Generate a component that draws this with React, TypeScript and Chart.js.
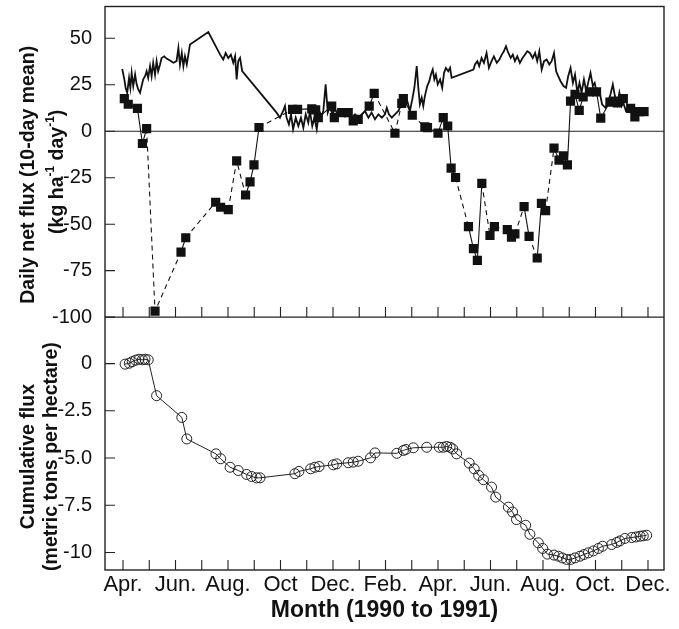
import React, { useEffect, useRef } from 'react';
import { Chart, registerables } from 'chart.js';

Chart.register(...registerables);

// x values are months counted from April 1990 (0 = Apr. 1990, 20 = Dec. 1991)
const monthLabels = ['Apr.', '', 'Jun.', '', 'Aug.', '', 'Oct', '', 'Dec.', '', 'Feb.', '', 'Apr.', '', 'Jun.', '', 'Aug.', '', 'Oct.', '', 'Dec.'];

const fluxTicks = [50, 25, 0, -25, -50, -75, -100];
const cumTicks = [0, -2.5, -5, -7.5, -10];
const cumTickLabels = ['0', '-2.5', '-5.0', '-7.5', '-10'];

// daily net flux (kg ha-1 day-1): [month, value]
const dailyFlux: [number, number][] = [
  [-0.03, 33.5], [0.05, 27.9], [0.10, 23.4], [0.16, 20.7], [0.23, 28.7], [0.28, 23.4], [0.33, 31.4], [0.39, 24.3],
  [0.46, 30.5], [0.52, 25.2], [0.58, 22.5], [0.65, 20.7], [0.71, 24.3], [0.77, 27.9], [0.84, 29.6], [0.90, 32.3],
  [0.96, 28.7], [1.03, 35.0], [1.09, 29.6], [1.15, 36.8], [1.22, 30.5], [1.28, 37.7], [1.34, 32.3], [1.41, 35.9],
  [1.47, 39.4], [1.57, 40.3], [1.66, 39.1], [1.79, 38.0], [1.92, 36.8], [2.04, 37.7], [2.11, 44.8], [2.17, 35.9],
  [2.24, 42.1], [2.30, 35.0], [2.36, 40.3], [2.43, 35.9], [2.55, 46.6], [3.25, 53.4], [3.70, 41.2], [3.82, 38.6],
  [3.91, 42.1], [4.01, 39.4], [4.11, 41.2], [4.20, 36.8], [4.27, 40.3], [4.33, 27.9], [4.39, 37.7], [4.46, 39.4],
  [4.54, 32.3],
  [5.85, 10.0], [5.98, 7.3], [6.10, 10.9], [6.17, 13.6], [6.23, 7.3], [6.32, 3.7], [6.40, 9.1], [6.48, 1.1],
  [6.58, 7.3], [6.68, 2.8], [6.78, 7.3], [6.87, 1.9], [6.96, 9.1], [7.06, 4.6], [7.12, 10.9], [7.21, 2.8],
  [7.29, 7.3], [7.38, 1.1], [7.47, 10.9], [7.57, 8.2], [7.63, 10.9], [7.72, 25.2], [7.80, 10.0], [7.89, 13.6],
  [7.97, 9.1], [8.08, 11.8], [8.20, 8.2], [8.33, 10.9], [8.46, 8.2], [8.58, 10.9], [8.71, 7.3], [8.84, 9.1],
  [8.96, 7.3], [9.09, 9.1], [9.22, 10.9], [9.35, 7.3], [9.47, 10.0], [9.60, 6.4], [9.73, 9.1], [9.86, 7.3],
  [9.98, 9.1], [10.05, 12.6], [10.13, 9.1], [10.24, 7.3], [10.36, 9.1], [10.49, 10.9], [10.58, 13.6], [10.66, 16.2],
  [10.74, 13.6], [10.83, 16.2], [10.93, 10.9], [11.02, 17.1], [11.10, 23.4], [11.19, 35.0], [11.25, 23.4], [11.31, 14.5],
  [11.38, 18.0], [11.44, 13.6], [11.50, 18.9], [11.59, 24.3], [11.67, 26.9], [11.73, 30.5], [11.80, 33.2], [11.86, 27.9],
  [11.92, 30.5], [11.99, 25.2], [12.08, 27.9], [12.16, 23.4], [12.23, 31.4], [12.30, 34.1], [12.39, 32.3], [12.46, 34.1],
  [12.52, 28.7],
  [13.35, 33.2], [13.41, 35.9], [13.50, 37.7], [13.57, 35.0], [13.66, 39.4], [13.75, 36.8], [13.85, 42.1], [13.94, 34.1],
  [14.04, 37.7], [14.13, 40.3], [14.24, 36.8], [14.34, 38.6], [14.43, 41.2], [14.51, 43.0], [14.59, 45.7], [14.68, 42.1],
  [14.77, 39.4], [14.85, 41.2], [14.93, 37.7], [15.02, 40.3], [15.12, 36.8], [15.22, 39.4], [15.31, 41.2], [15.40, 43.0],
  [15.50, 42.1], [15.61, 39.4], [15.70, 42.1], [15.78, 37.7], [15.86, 43.0], [15.95, 33.2], [16.04, 37.7], [16.14, 38.6],
  [16.24, 35.9], [16.33, 37.7], [16.42, 42.1], [16.50, 32.3], [16.58, 29.6], [16.67, 26.9], [16.78, 24.3], [16.88, 23.4],
  [16.96, 29.6], [17.05, 34.1], [17.14, 26.0], [17.22, 30.5], [17.31, 20.7], [17.39, 26.0], [17.47, 20.7], [17.56, 27.9],
  [17.65, 21.6], [17.72, 26.0], [17.81, 31.4], [17.90, 24.3], [17.97, 26.0], [18.06, 19.8], [18.15, 21.6], [18.25, 14.5],
  [18.38, 12.6], [18.48, 15.3], [18.57, 19.8], [18.66, 25.2], [18.74, 18.9], [18.83, 14.5], [18.91, 20.7], [19.00, 13.6],
  [19.06, 15.3], [19.16, 10.9], [19.25, 11.8], [19.34, 12.3], [19.44, 10.9], [19.56, 11.2], [19.68, 11.2], [19.83, 10.5],
];

// 10-day mean net flux: [month, value]
const meanFlux: [number, number][] = [
  [0.05, 17.5], [0.20, 14.5], [0.55, 12.3], [0.74, -6.6], [0.90, 1.4], [1.22, -96.8], [2.21, -65.0], [2.39, -57.3],
  [3.53, -38.2], [3.72, -40.9], [4.01, -42.2], [4.33, -15.9], [4.67, -34.3], [4.84, -27.2], [4.99, -18.1], [5.18, 2.0],
  [6.46, 11.8], [6.65, 11.8], [7.19, 12.0], [7.34, 11.5], [7.44, 7.3], [7.95, 13.5], [8.05, 7.3], [8.33, 10.0],
  [8.58, 10.0], [8.77, 5.5], [8.96, 6.4], [9.38, 13.5], [9.57, 20.4], [10.36, -1.1], [10.62, 15.0], [10.68, 17.5],
  [11.02, 8.6], [11.50, 2.3], [11.60, 1.9], [12.00, -1.0], [12.20, 7.3], [12.37, 2.8], [12.50, -19.8], [12.67, -24.9],
  [13.16, -51.3], [13.35, -63.2], [13.50, -69.5], [13.67, -28.1], [13.98, -56.1], [14.15, -51.3], [14.64, -52.9], [14.80, -57.0],
  [14.93, -55.2], [15.28, -40.6], [15.47, -56.6], [15.78, -68.2], [15.94, -38.8], [16.10, -42.7], [16.42, -9.1], [16.61, -15.5],
  [16.78, -13.2], [16.93, -18.1], [17.05, 16.2], [17.22, 19.8], [17.38, 11.2], [17.53, 18.4], [17.77, 21.2], [18.04, 21.2],
  [18.20, 7.0], [18.55, 15.7], [18.68, 16.2], [18.83, 15.3], [19.06, 17.5], [19.34, 12.3], [19.50, 7.7], [19.67, 10.5],
  [19.85, 10.5],
];

// indices of 10-day means that follow missing periods (joined by a dashed line)
const meanGapBefore = [5, 6, 8, 11, 12, 16, 29, 30, 33, 40, 44, 46, 49, 51, 54];

// cumulative flux (metric tons per hectare): [month, value]
const cumFlux: [number, number][] = [
  [0.08, -0.03], [0.24, 0.02], [0.35, 0.10], [0.48, 0.18], [0.61, 0.23], [0.74, 0.20], [0.84, 0.23], [0.96, 0.20],
  [1.28, -1.70], [2.24, -2.85], [2.43, -3.99], [3.54, -4.78], [3.72, -5.04], [4.08, -5.49], [4.39, -5.66], [4.71, -5.87],
  [4.90, -5.98], [5.09, -6.05], [5.22, -6.05], [6.55, -5.83], [6.70, -5.71], [7.15, -5.57], [7.31, -5.49], [7.47, -5.45],
  [8.01, -5.36], [8.14, -5.31], [8.58, -5.25], [8.77, -5.22], [8.96, -5.17], [9.43, -4.99], [9.60, -4.73], [10.43, -4.75],
  [10.68, -4.60], [10.78, -4.55], [11.06, -4.46], [11.57, -4.43], [12.05, -4.43], [12.20, -4.43], [12.33, -4.39], [12.46, -4.43],
  [12.56, -4.52], [12.71, -4.78], [13.19, -5.27], [13.38, -5.57], [13.55, -5.92], [13.73, -6.15], [14.04, -6.54], [14.20, -7.07],
  [14.68, -7.60], [14.84, -7.86], [14.99, -8.26], [15.34, -8.56], [15.50, -9.04], [15.82, -9.49], [15.99, -9.79], [16.17, -10.09],
  [16.42, -10.14], [16.59, -10.20], [16.74, -10.29], [16.90, -10.37], [17.06, -10.37], [17.22, -10.29], [17.41, -10.20], [17.56, -10.11],
  [17.73, -10.02], [17.92, -9.92], [18.11, -9.79], [18.27, -9.67], [18.62, -9.58], [18.81, -9.47], [18.93, -9.39], [19.12, -9.26],
  [19.38, -9.21], [19.54, -9.18], [19.70, -9.14], [19.82, -9.12], [19.95, -9.09],
];

const fluxTitleLine1 = 'Daily net flux (10-day mean)';
const fluxTitleLine2: [string, boolean][] = [['(kg ha', false], ['-1', true], [' day', false], ['-1', true], [')', false]];
const cumTitleLine1 = 'Cumulative flux';
const cumTitleLine2 = '(metric tons per hectare)';
const xTitle = 'Month (1990 to 1991)';

const FAMILY = "'Liberation Sans', Arial, Helvetica, sans-serif";
const INK = '#111';

const toXY = (arr: [number, number][]) => arr.map(([x, y]) => ({ x, y }));

function drawRotated(ctx: CanvasRenderingContext2D, cx: number, cy: number, parts: [string, boolean][]) {
  const mainFont = `bold 19.5px ${FAMILY}`;
  const supFont = `bold 12px ${FAMILY}`;
  ctx.save();
  ctx.translate(cx, cy);
  ctx.rotate(-Math.PI / 2);
  ctx.textBaseline = 'middle';
  ctx.textAlign = 'left';
  ctx.fillStyle = INK;
  let total = 0;
  const widths = parts.map(([t, sup]) => {
    ctx.font = sup ? supFont : mainFont;
    const w = ctx.measureText(t).width;
    total += w;
    return w;
  });
  let pos = -total / 2;
  parts.forEach(([t, sup], i) => {
    ctx.font = sup ? supFont : mainFont;
    ctx.fillText(t, pos, sup ? -7 : 0);
    pos += widths[i];
  });
  ctx.restore();
}

const framePlugin = {
  id: 'panelFrame',
  beforeDatasetsDraw(chart: any) {
    const { ctx, chartArea } = chart;
    const yT = chart.scales.yT;
    const y0 = yT.getPixelForValue(0);
    ctx.save();
    ctx.strokeStyle = '#222';
    ctx.lineWidth = 1.2;
    ctx.beginPath();
    ctx.moveTo(chartArea.left, y0);
    ctx.lineTo(chartArea.right, y0);
    ctx.stroke();
    ctx.restore();
  },
  afterDatasetsDraw(chart: any) {
    const { ctx, chartArea } = chart;
    const { x, yT, yB } = chart.scales;
    ctx.save();
    ctx.strokeStyle = '#222';
    ctx.lineWidth = 1.4;
    ctx.strokeRect(chartArea.left, chartArea.top, chartArea.right - chartArea.left, chartArea.bottom - chartArea.top);
    ctx.beginPath();
    ctx.moveTo(chartArea.left, yT.bottom);
    ctx.lineTo(chartArea.right, yT.bottom);
    ctx.stroke();
    ctx.lineWidth = 1.1;
    ctx.beginPath();
    for (const t of x.ticks) {
      const px = x.getPixelForValue(t.value);
      for (const s of [yT, yB]) {
        ctx.moveTo(px, s.bottom);
        ctx.lineTo(px, s.bottom - 10);
      }
    }
    for (const s of [yT, yB]) {
      for (const t of s.ticks) {
        const py = s.getPixelForValue(t.value);
        ctx.moveTo(chartArea.left, py);
        ctx.lineTo(chartArea.left + 10, py);
      }
    }
    ctx.stroke();
    ctx.restore();
  },
  afterDraw(chart: any) {
    const { ctx } = chart;
    const { yT, yB } = chart.scales;
    const cT = (yT.top + yT.bottom) / 2 + 13;
    const cB = (yB.top + yB.bottom) / 2 + 13;
    drawRotated(ctx, yT.left + 29, cT, [[fluxTitleLine1, false]]);
    drawRotated(ctx, yT.left + 57.5, cT - 3, fluxTitleLine2);
    drawRotated(ctx, yB.left + 29, cB, [[cumTitleLine1, false]]);
    drawRotated(ctx, yB.left + 52, cB, [[cumTitleLine2, false]]);
  },
};

const noPad = (s: any) => {
  s.paddingTop = 0;
  s.paddingBottom = 0;
  s.paddingLeft = 0;
  s.paddingRight = 0;
};

export default function App() {
  const ref = useRef<HTMLCanvasElement>(null);
  useEffect(() => {
    document.body.style.margin = '0';
    const chart = new Chart(ref.current as HTMLCanvasElement, {
      type: 'line',
      data: {
        datasets: [
          {
            label: '10-day mean',
            data: toXY(meanFlux),
            yAxisID: 'yT',
            borderColor: INK,
            borderWidth: 1.1,
            pointStyle: 'rect',
            pointRadius: 6.5,
            pointBackgroundColor: INK,
            pointBorderColor: INK,
            pointBorderWidth: 0,
            tension: 0,
            order: 1,
            segment: {
              borderDash: (c: any) => (meanGapBefore.includes(c.p1DataIndex) ? [5, 4] : []),
            },
          } as any,
          {
            label: 'daily',
            data: toXY(dailyFlux),
            yAxisID: 'yT',
            borderColor: INK,
            borderWidth: 1.8,
            pointRadius: 0,
            tension: 0,
            order: 2,
          },
          {
            label: 'cumulative',
            data: toXY(cumFlux),
            yAxisID: 'yB',
            borderColor: '#222',
            borderWidth: 1,
            pointStyle: 'circle',
            pointRadius: 5,
            pointBackgroundColor: 'rgba(0,0,0,0)',
            pointBorderColor: '#222',
            pointBorderWidth: 1,
            tension: 0,
          },
        ],
      },
      options: {
        responsive: false,
        animation: false,
        events: [],
        layout: { padding: { top: 4, right: 15, left: 0, bottom: 0 } },
        plugins: { legend: { display: false }, tooltip: { enabled: false } },
        scales: {
          x: {
            type: 'linear',
            position: 'bottom',
            min: -0.686,
            max: 20.61,
            afterBuildTicks: (s: any) => {
              s.ticks = monthLabels.map((_, i) => ({ value: i }));
            },
            afterFit: (s: any) => {
              s.height = 59;
              noPad(s);
            },
            ticks: {
              autoSkip: false,
              maxRotation: 0,
              minRotation: 0,
              padding: -6,
              color: INK,
              font: { family: FAMILY, size: 22 },
              callback: (v: any) => monthLabels[Math.round(Number(v))] ?? '',
            },
            grid: { display: false },
            border: { display: false },
            title: {
              display: true,
              text: xTitle,
              color: INK,
              font: { family: FAMILY, size: 23, weight: 'bold' },
              padding: { top: 0, bottom: 5 },
            },
          },
          yB: {
            type: 'linear',
            position: 'left',
            stack: 'panels',
            stackWeight: 254,
            min: -10.93,
            max: 2.46,
            afterBuildTicks: (s: any) => {
              s.ticks = cumTicks.map((v) => ({ value: v }));
            },
            afterFit: (s: any) => {
              s.width = 105;
              noPad(s);
            },
            ticks: {
              padding: 5,
              color: INK,
              font: { family: FAMILY, size: 20 },
              callback: (v: any) => {
                const i = cumTicks.indexOf(Number(v));
                return i >= 0 ? cumTickLabels[i] : '';
              },
            },
            grid: { display: false },
            border: { display: false },
          },
          yT: {
            type: 'linear',
            position: 'left',
            stack: 'panels',
            stackWeight: 312,
            min: -100,
            max: 67.1,
            afterBuildTicks: (s: any) => {
              s.ticks = fluxTicks.map((v) => ({ value: v }));
            },
            afterFit: (s: any) => {
              s.width = 105;
              noPad(s);
            },
            ticks: {
              padding: 5,
              color: INK,
              font: { family: FAMILY, size: 20 },
              callback: (v: any) => String(v),
            },
            grid: { display: false },
            border: { display: false },
          },
        },
      } as any,
      plugins: [framePlugin],
    });
    return () => chart.destroy();
  }, []);
  return (
    <div style={{ width: 679, height: 629, background: '#fff' }}>
      <canvas ref={ref} width={679} height={629} style={{ display: 'block' }} />
    </div>
  );
}
